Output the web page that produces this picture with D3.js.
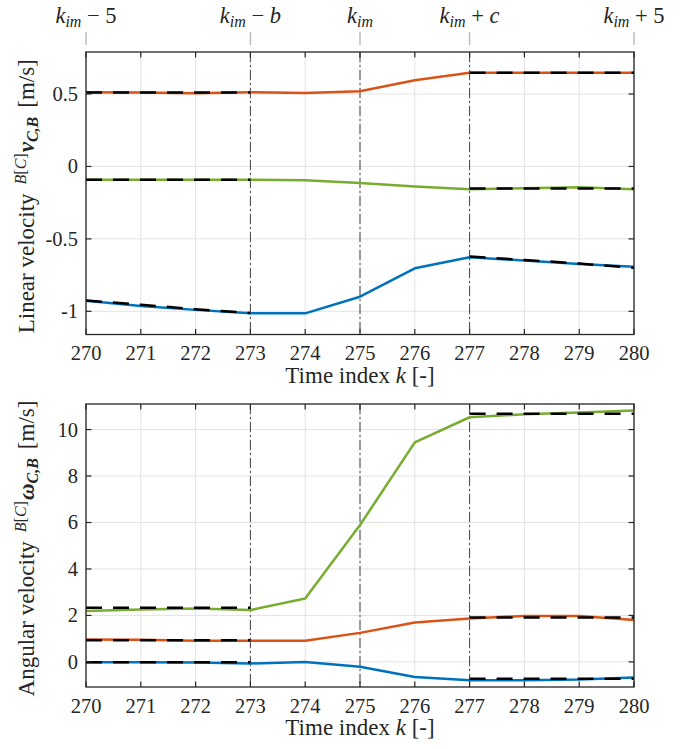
<!DOCTYPE html>
<html>
<head>
<meta charset="utf-8">
<script src="https://cdn.jsdelivr.net/npm/d3@7"></script>
<style>
  body { margin: 0; background: #fff; }
</style>
</head>
<body>
<div id="chart"></div>
<script>
// time index on x
var kIdx = [270, 271, 272, 273, 274, 275, 276, 277, 278, 279, 280];
var xTicks = [270, 271, 272, 273, 274, 275, 276, 277, 278, 279, 280];

// marker lines (k_im window) and their labels on top
var markK = [273, 275, 277];
var topK = [270, 273, 275, 277, 280];
var topOp = [" \u2212 ", " \u2212 ", "", " + ", " + "];
var topArg = ["5", "b", "", "c", "5"];

// reference (dashed) windows
var refBeforeK = [270, 271, 272, 273];
var refAfterK = [277, 278, 279, 280];

// linear velocity
var linBlue = [-0.927, -0.963, -0.990, -1.014, -1.014, -0.899, -0.703, -0.627, -0.650, -0.673, -0.692];
var linOrange = [0.512, 0.510, 0.505, 0.512, 0.507, 0.519, 0.595, 0.646, 0.646, 0.646, 0.646];
var linGreen = [-0.092, -0.092, -0.092, -0.092, -0.095, -0.115, -0.138, -0.157, -0.150, -0.143, -0.157];
var linBlueRefBefore = [-0.925, -0.955, -0.985, -1.012];
var linBlueRefAfter = [-0.622, -0.645, -0.670, -0.700];
var linOrangeRefBefore = [0.510, 0.510, 0.510, 0.510];
var linOrangeRefAfter = [0.646, 0.646, 0.646, 0.646];
var linGreenRefBefore = [-0.092, -0.092, -0.092, -0.092];
var linGreenRefAfter = [-0.152, -0.152, -0.152, -0.152];
var linTicks = [-1, -0.5, 0, 0.5];

// angular velocity
var angBlue = [-0.01, -0.01, -0.03, -0.07, 0.00, -0.21, -0.65, -0.79, -0.79, -0.76, -0.67];
var angOrange = [0.96, 0.95, 0.91, 0.91, 0.91, 1.25, 1.70, 1.87, 1.98, 1.98, 1.80];
var angGreen = [2.19, 2.26, 2.30, 2.23, 2.73, 5.89, 9.45, 10.53, 10.66, 10.73, 10.82];
var angBlueRefBefore = [-0.01, -0.01, -0.01, -0.01];
var angBlueRefAfter = [-0.73, -0.73, -0.73, -0.73];
var angOrangeRefBefore = [0.93, 0.93, 0.93, 0.93];
var angOrangeRefAfter = [1.91, 1.91, 1.91, 1.91];
var angGreenRefBefore = [2.33, 2.33, 2.33, 2.33];
var angGreenRefAfter = [10.68, 10.68, 10.68, 10.68];
var angTicks = [0, 2, 4, 6, 8, 10];

var colBlue = "#0072BD", colOrange = "#D95319", colGreen = "#77AC30";
var FONT = "'Liberation Serif', 'DejaVu Serif', serif";

var W = 686, H = 749;
var left = 86, right = 634;

var svg = d3.select("#chart").append("svg")
    .attr("width", W)
    .attr("height", H)
    .attr("font-family", FONT)
    .attr("fill", "#262626");

var x = d3.scaleLinear().domain([270, 280]).range([left, right]);

function pts(ks, vs) {
  return ks.map(function(k, i) { return [k, vs[i]]; });
}

function drawPanel(p) {
  var y = d3.scaleLinear().domain(p.domain).range([p.bottom, p.top]);
  var g = svg.append("g");

  // grid
  g.selectAll(".gx").data(xTicks).enter().append("line")
      .attr("x1", function(d) { return x(d); }).attr("x2", function(d) { return x(d); })
      .attr("y1", p.top).attr("y2", p.bottom)
      .attr("stroke", "#e3e3e3").attr("stroke-width", 1);
  g.selectAll(".gy").data(p.ticks).enter().append("line")
      .attr("x1", left).attr("x2", right)
      .attr("y1", function(d) { return y(d); }).attr("y2", function(d) { return y(d); })
      .attr("stroke", "#e3e3e3").attr("stroke-width", 1);

  // k_im markers
  g.selectAll(".mk").data(markK).enter().append("line")
      .attr("x1", function(d) { return x(d); }).attr("x2", function(d) { return x(d); })
      .attr("y1", p.top).attr("y2", p.bottom)
      .attr("stroke", "#444").attr("stroke-width", 1)
      .attr("stroke-dasharray", "10,3,2,3");

  var line = d3.line()
      .x(function(d) { return x(d[0]); })
      .y(function(d) { return y(d[1]); });

  // measured series
  p.series.forEach(function(s) {
    g.append("path")
        .datum(pts(kIdx, s.values))
        .attr("d", line)
        .attr("fill", "none")
        .attr("stroke", s.color)
        .attr("stroke-width", 2.5)
        .attr("stroke-linejoin", "round");
  });

  // reference dashed
  p.refs.forEach(function(r) {
    g.append("path")
        .datum(pts(r.k, r.values))
        .attr("d", line)
        .attr("fill", "none")
        .attr("stroke", "#000")
        .attr("stroke-width", 2.5)
        .attr("stroke-dasharray", "16,11");
  });

  // box
  g.append("rect")
      .attr("x", left).attr("y", p.top)
      .attr("width", right - left).attr("height", p.bottom - p.top)
      .attr("fill", "none").attr("stroke", "#262626").attr("stroke-width", 1.3);

  // inward ticks
  var tl = 5.5;
  g.selectAll(".tb").data(xTicks).enter().append("line")
      .attr("x1", function(d) { return x(d); }).attr("x2", function(d) { return x(d); })
      .attr("y1", p.bottom).attr("y2", p.bottom - tl)
      .attr("stroke", "#262626").attr("stroke-width", 1.2);
  g.selectAll(".tt").data(xTicks).enter().append("line")
      .attr("x1", function(d) { return x(d); }).attr("x2", function(d) { return x(d); })
      .attr("y1", p.top).attr("y2", p.top + tl)
      .attr("stroke", "#262626").attr("stroke-width", 1.2);
  g.selectAll(".tl").data(p.ticks).enter().append("line")
      .attr("x1", left).attr("x2", left + tl)
      .attr("y1", function(d) { return y(d); }).attr("y2", function(d) { return y(d); })
      .attr("stroke", "#262626").attr("stroke-width", 1.2);
  g.selectAll(".tr").data(p.ticks).enter().append("line")
      .attr("x1", right).attr("x2", right - tl)
      .attr("y1", function(d) { return y(d); }).attr("y2", function(d) { return y(d); })
      .attr("stroke", "#262626").attr("stroke-width", 1.2);

  // tick labels
  g.selectAll(".xl").data(xTicks).enter().append("text")
      .attr("x", function(d) { return x(d); })
      .attr("y", p.bottom + 25.5)
      .attr("text-anchor", "middle")
      .attr("font-size", "20.5px")
      .text(function(d) { return d; });
  g.selectAll(".yl").data(p.ticks).enter().append("text")
      .attr("x", left - 8)
      .attr("y", function(d) { return y(d); })
      .attr("dy", "0.34em")
      .attr("text-anchor", "end")
      .attr("font-size", "20.5px")
      .text(function(d) { return d; });

  // x title
  var xt = g.append("text")
      .attr("x", (left + right) / 2)
      .attr("y", p.bottom + 48)
      .attr("text-anchor", "middle")
      .attr("font-size", "23px");
  xt.append("tspan").text("Time index ");
  xt.append("tspan").attr("font-style", "italic").text("k");
  xt.append("tspan").text(" [-]");

  // y title
  var yt = g.append("text")
      .attr("transform", "translate(34," + ((p.top + p.bottom) / 2 + 3) + ") rotate(-90)")
      .attr("text-anchor", "middle")
      .attr("font-size", "23px");
  yt.append("tspan").text(p.yName);
  yt.append("tspan").attr("font-size", "16px").attr("font-style", "italic").attr("dx", 9).attr("dy", -8).text("B");
  yt.append("tspan").attr("font-size", "16px").text("[");
  yt.append("tspan").attr("font-size", "16px").attr("font-style", "italic").text("C");
  yt.append("tspan").attr("font-size", "16px").text("]");
  yt.append("tspan").attr("font-weight", "bold").attr("font-style", "italic").attr("dx", 1).attr("dy", 8).text(p.sym);
  yt.append("tspan").attr("font-size", "16px").attr("font-weight", "bold").attr("font-style", "italic").attr("dy", 4).text("C,B");
  yt.append("tspan").attr("dx", 9).attr("dy", -4).text("[m/s]");
}

drawPanel({
  top: 52, bottom: 334.5,
  domain: [-1.16, 0.79],
  ticks: linTicks,
  yName: "Linear velocity",
  sym: "v",
  series: [
    {values: linBlue, color: colBlue},
    {values: linOrange, color: colOrange},
    {values: linGreen, color: colGreen}
  ],
  refs: [
    {k: refBeforeK, values: linBlueRefBefore}, {k: refAfterK, values: linBlueRefAfter},
    {k: refBeforeK, values: linOrangeRefBefore}, {k: refAfterK, values: linOrangeRefAfter},
    {k: refBeforeK, values: linGreenRefBefore}, {k: refAfterK, values: linGreenRefAfter}
  ]
});

drawPanel({
  top: 404, bottom: 687,
  domain: [-1.08, 11.1],
  ticks: angTicks,
  yName: "Angular velocity",
  sym: "\u03c9",
  series: [
    {values: angBlue, color: colBlue},
    {values: angOrange, color: colOrange},
    {values: angGreen, color: colGreen}
  ],
  refs: [
    {k: refBeforeK, values: angBlueRefBefore}, {k: refAfterK, values: angBlueRefAfter},
    {k: refBeforeK, values: angOrangeRefBefore}, {k: refAfterK, values: angOrangeRefAfter},
    {k: refBeforeK, values: angGreenRefBefore}, {k: refAfterK, values: angGreenRefAfter}
  ]
});

// top k_im labels and their guide lines
svg.selectAll(".kg").data(topK).enter().append("line")
    .attr("x1", function(d) { return x(d); }).attr("x2", function(d) { return x(d); })
    .attr("y1", 32).attr("y2", 45)
    .attr("stroke", "#bdbdbd").attr("stroke-width", 1.5);

topK.forEach(function(k, i) {
  var t = svg.append("text")
      .attr("x", x(k))
      .attr("y", 23)
      .attr("text-anchor", "middle")
      .attr("font-size", "22.5px");
  t.append("tspan").attr("font-style", "italic").text("k");
  t.append("tspan").attr("font-style", "italic").attr("font-size", "16px").attr("dy", 4).text("im");
  t.append("tspan").attr("dy", -4).text(topOp[i]);
  t.append("tspan").attr("font-style", /[a-z]/.test(topArg[i]) ? "italic" : "normal").text(topArg[i]);
});
</script>
</body>
</html>
